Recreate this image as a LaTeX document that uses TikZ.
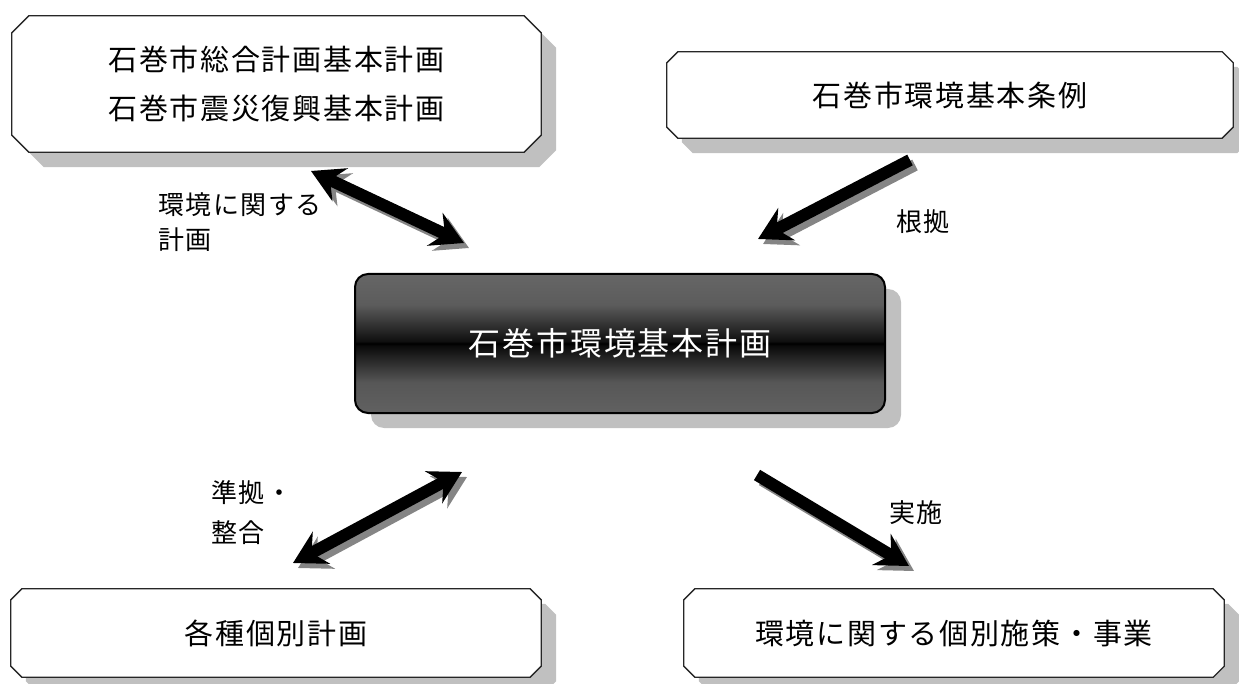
\documentclass[tikz,border=0pt]{standalone}
\usepackage{fontspec}
\newfontfamily\jp[LetterSpace=6]{Noto Sans CJK JP}
\usetikzlibrary{calc,arrows.meta,shadows}
\definecolor{shadowgray}{HTML}{C0C0C0}
\definecolor{arrowshadow}{HTML}{858585}
\pgfdeclareverticalshading{cshade}{100bp}{color(0bp)=(black!62); color(25bp)=(black!62); color(36bp)=(black!66); color(49.2bp)=(black!96); color(50bp)=(black); color(50.8bp)=(black!94); color(64bp)=(black!64); color(75bp)=(black!60); color(100bp)=(black!60)}
\newcommand\chamferpath[2]{($(#1.north west)+(#2,0)$) -- ($(#1.north east)+(-#2,0)$) -- ($(#1.north east)+(0,#2)$) -- ($(#1.south east)+(0,-#2)$) -- ($(#1.south east)+(-#2,0)$) -- ($(#1.south west)+(#2,0)$) -- ($(#1.south west)+(0,-#2)$) -- ($(#1.north west)+(0,#2)$) -- cycle}
\begin{document}
\begin{tikzpicture}[x=1pt,y=-1pt,
  boxtext/.style={inner sep=0pt, align=center, font=\jp\fontsize{29}{49}\selectfont},
  lbl/.style={inner sep=0pt, align=left, font=\jp\fontsize{26}{35}\selectfont},
  bigarrow/.style={line width=12pt},
  headtip/.style={-{Stealth[length=32pt,width=36pt,inset=11pt]}},
  dbltip/.style={{Stealth[length=32pt,width=36pt,inset=11pt]}-{Stealth[length=32pt,width=36pt,inset=11pt]}}
]
\useasboundingbox (0,0) rectangle (1239,684);

% box nodes (geometry)
\node[boxtext, minimum width=529pt, minimum height=136pt] (plan) at (276.5,84) {石巻市総合計画基本計画\\石巻市震災復興基本計画};
\node[boxtext, minimum width=566pt, minimum height=86pt] (ord) at (950,95) {石巻市環境基本条例};
\node[boxtext, minimum width=530pt, minimum height=88pt] (indiv) at (276,633) {各種個別計画};
\node[boxtext, minimum width=540pt, minimum height=88pt] (meas) at (954,633) {環境に関する個別施策・事業};

% shadows of chamfered boxes
\begin{scope}[transform canvas={xshift=15pt,yshift=-15pt}]
  \fill[shadowgray] \chamferpath{plan}{17};
  \fill[shadowgray] \chamferpath{ord}{11};
  \fill[shadowgray] \chamferpath{indiv}{11};
  \fill[shadowgray] \chamferpath{meas}{11};
\end{scope}
% outlines
\filldraw[fill=white, draw=black!85, line width=1.3pt] \chamferpath{plan}{17};
\filldraw[fill=white, draw=black!85, line width=1.3pt] \chamferpath{ord}{11};
\filldraw[fill=white, draw=black!85, line width=1.3pt] \chamferpath{indiv}{11};
\filldraw[fill=white, draw=black!85, line width=1.3pt] \chamferpath{meas}{11};
% redraw texts on top
\node[boxtext] at (plan) {石巻市総合計画基本計画\\石巻市震災復興基本計画};
\node[boxtext] at (ord) {石巻市環境基本条例};
\node[boxtext] at (indiv) {各種個別計画};
\node[boxtext] at (meas) {環境に関する個別施策・事業};

% central box
\node[draw=black, line width=2pt, rounded corners=13pt, shading=cshade,
  minimum width=530pt, minimum height=139pt, inner sep=0pt,
  text=white, font=\jp\fontsize{32}{40}\selectfont,
  drop shadow={shadow xshift=16pt, shadow yshift=-15pt, fill=shadowgray, opacity=1}]
  (env) at (620,343.5) {石巻市環境基本計画};

% arrow end points
\coordinate (a1s) at (311,171);
\coordinate (a1e) at (464,243);
\coordinate (a2s) at (910,160);
\coordinate (a2e) at (758,239);
\coordinate (a3s) at (462,472);
\coordinate (a3e) at (293,563);
\coordinate (a4s) at (757,475);
\coordinate (a4e) at (909,566);

% arrow shadows
\begin{scope}[transform canvas={xshift=5pt,yshift=-5pt}]
  \draw[bigarrow, dbltip, arrowshadow] (a1s) -- (a1e);
  \draw[bigarrow, headtip, arrowshadow] (a2s) -- (a2e);
  \draw[bigarrow, dbltip, arrowshadow] (a3s) -- (a3e);
  \draw[bigarrow, headtip, arrowshadow] (a4s) -- (a4e);
\end{scope}
% arrows
\draw[bigarrow, dbltip, black] (a1s) -- (a1e);
\draw[bigarrow, headtip, black] (a2s) -- (a2e);
\draw[bigarrow, dbltip, black] (a3s) -- (a3e);
\draw[bigarrow, headtip, black] (a4s) -- (a4e);

% labels
\node[lbl, anchor=west] (l1) at (158,222.5) {環境に関する\\計画};
\node[lbl] (l2) at (923,222) {根拠};
\node[lbl, anchor=west, font=\jp\fontsize{26}{40}\selectfont] (l3) at (211,513) {準拠・\\整合};
\node[lbl] (l4) at (916,513) {実施};
\end{tikzpicture}
\end{document}
